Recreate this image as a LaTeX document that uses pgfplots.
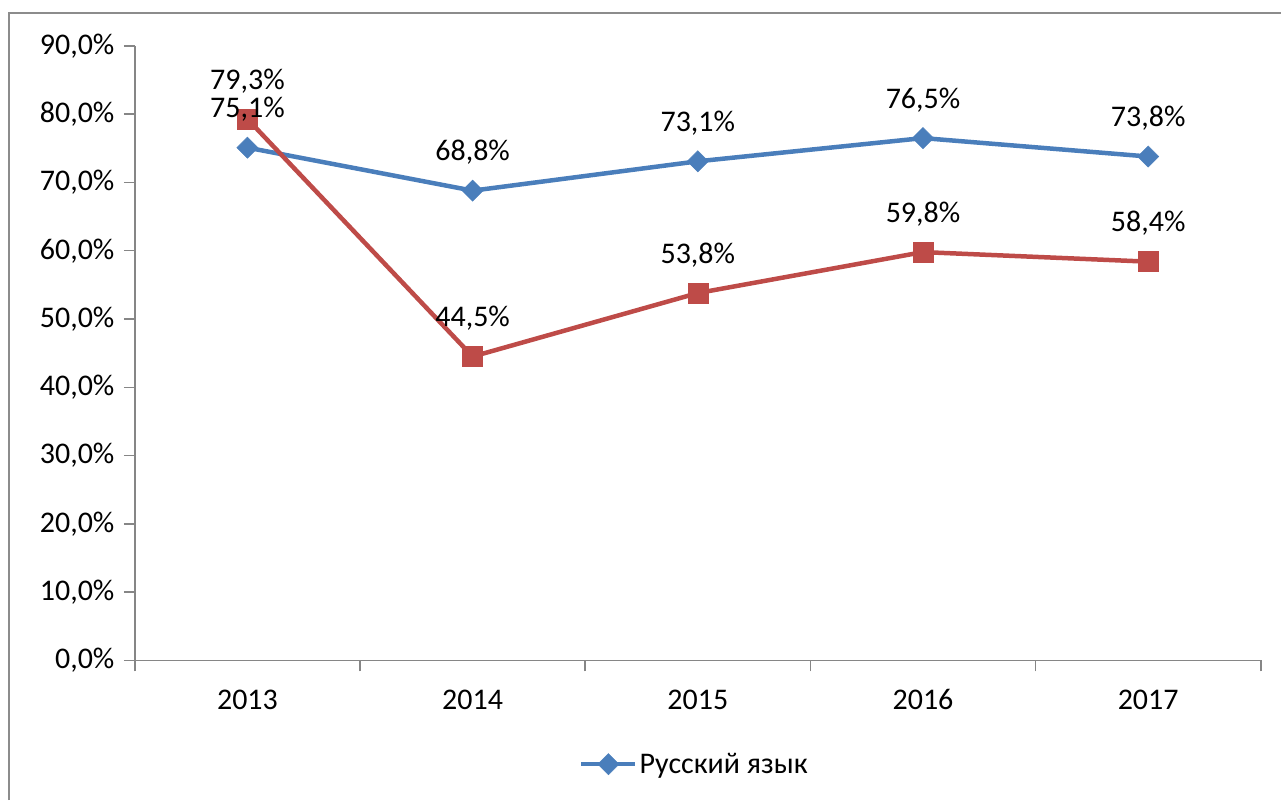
\documentclass[border=0pt]{standalone}
\usepackage{pgfplots}
\pgfplotsset{compat=1.18}
\usepackage{fontspec}
\setmainfont{Carlito}
\definecolor{cblue}{HTML}{4A7EBB}
\definecolor{cred}{HTML}{BE4B48}
\definecolor{caxis}{HTML}{868686}
\definecolor{cframe}{HTML}{8C8C8C}
\begin{document}
\begin{tikzpicture}[font=\fontsize{30bp}{36bp}\selectfont]
\begin{axis}[
  scale only axis, width=1127bp, height=615bp,
  xmin=-0.5, xmax=4.5, ymin=0, ymax=90,
  axis lines*=left,
  axis line style={caxis, line width=1.5bp},
  clip=false,
  xtick={-0.5,0.5,1.5,2.5,3.5,4.5},
  x tick label as interval,
  xticklabels={2013,2014,2015,2016,2017},
  xticklabel style={yshift=-15bp, text height=19.5bp, text depth=0bp},
  ytick={0,10,...,90},
  yticklabel={\pgfmathprintnumber[fixed,fixed zerofill,precision=1,use comma,assume math mode=true]{\tick}\%},
  yticklabel style={xshift=-6bp},
  tick align=outside,
  major tick length=11bp,
  tick style={caxis, line width=1.5bp},
  legend style={at={(0.497,-0.169)}, anchor=center, draw=none, fill=none, inner sep=0pt, nodes={inner sep=2bp}},
  legend image code/.code={\draw[mark repeat=2,mark phase=2,#1] plot coordinates {(0bp,0bp) (27bp,0bp) (54bp,0bp)};},
  every node near coord/.append style={black, anchor=base, yshift=30bp},
]
% invisible bounding box and frame
\path (axis cs:-1.0989,-20.488) rectangle (axis cs:4.5888,96.73);
\draw[cframe, line width=2.5bp] (axis cs:-1.059,-20.488) |- (axis cs:4.5888,94.83);

\addplot[cblue, line width=4.5bp, mark=square*, mark size=7.5bp, mark options={rotate=45, fill=cblue, draw=cblue, line width=0.5bp}]
  coordinates {(0,75.1) (1,68.8) (2,73.1) (3,76.5) (4,73.8)};
\addlegendentry{Русский язык}
\addplot[cred, line width=4.5bp, mark=square*, mark size=10bp, mark options={fill=cred, draw=cred, line width=0.5bp}, forget plot]
  coordinates {(0,79.3) (1,44.5) (2,53.8) (3,59.8) (4,58.4)};
% data labels on top
\addplot[draw=none, forget plot, nodes near coords={\pgfmathprintnumber[fixed,fixed zerofill,precision=1,use comma,assume math mode=true]{\pgfplotspointmeta}\%}]
  coordinates {(0,75.1) (1,68.8) (2,73.1) (3,76.5) (4,73.8)};
\addplot[draw=none, forget plot, nodes near coords={\pgfmathprintnumber[fixed,fixed zerofill,precision=1,use comma,assume math mode=true]{\pgfplotspointmeta}\%}]
  coordinates {(0,79.3) (1,44.5) (2,53.8) (3,59.8) (4,58.4)};
\end{axis}
\end{tikzpicture}
\end{document}
